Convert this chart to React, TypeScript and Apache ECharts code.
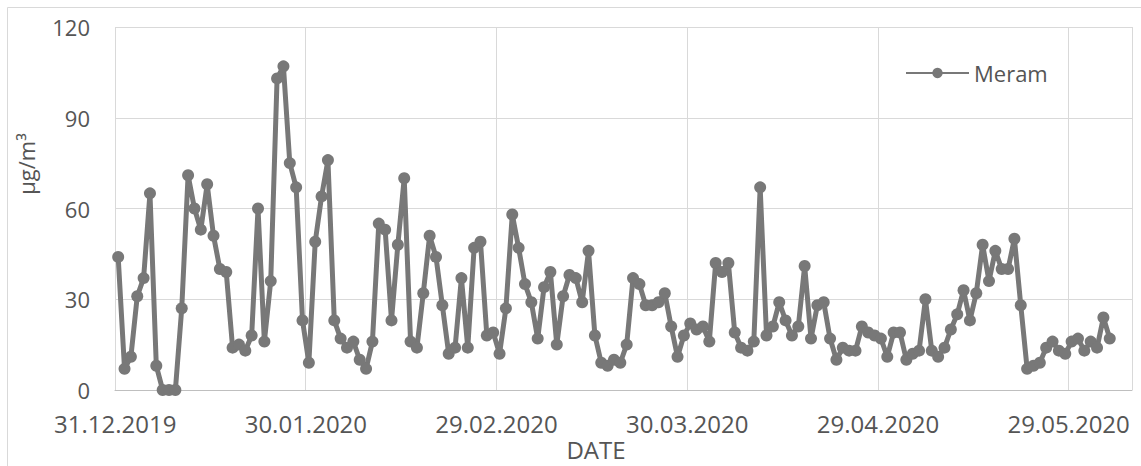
import React, { useEffect, useRef } from "react";
import * as echarts from "echarts";

const startDate = { y: 2019, m: 11, d: 31 };
const slotCount = 160;
const seriesName = "Meram";
const yTicks = [0, 30, 60, 90, 120];
const yTitle = "μg/m³";
const xTitle = "DATE";

const meram = [
  44, 7, 11, 31, 37, 65, 8, 0, 0, 0,
  27, 71, 60, 53, 68, 51, 40, 39, 14, 15,
  13, 18, 60, 16, 36, 103, 107, 75, 67, 23,
  9, 49, 64, 76, 23, 17, 14, 16, 10, 7,
  16, 55, 53, 23, 48, 70, 16, 14, 32, 51,
  44, 28, 12, 14, 37, 14, 47, 49, 18, 19,
  12, 27, 58, 47, 35, 29, 17, 34, 39, 15,
  31, 38, 37, 29, 46, 18, 9, 8, 10, 9,
  15, 37, 35, 28, 28, 29, 32, 21, 11, 18,
  22, 20, 21, 16, 42, 39, 42, 19, 14, 13,
  16, 67, 18, 21, 29, 23, 18, 21, 41, 17,
  28, 29, 17, 10, 14, 13, 13, 21, 19, 18,
  17, 11, 19, 19, 10, 12, 13, 30, 13, 11,
  14, 20, 25, 33, 23, 32, 48, 36, 46, 40,
  40, 50, 28, 7, 8, 9, 14, 16, 13, 12,
  16, 17, 13, 16, 14, 24, 17,
];

function pad(n: number) {
  return n < 10 ? "0" + n : "" + n;
}

const categories: string[] = [];
for (let i = 0; i < slotCount; i++) {
  const dt = new Date(Date.UTC(startDate.y, startDate.m, startDate.d + i));
  categories.push(pad(dt.getUTCDate()) + "." + pad(dt.getUTCMonth() + 1) + "." + dt.getUTCFullYear());
}

const FONT = "'Open Sans', 'Noto Sans', sans-serif";
const TEXT = "#555555";
const GRID = "#d9d9d9";
const LINE = "#787878";

export default function App() {
  const ref = useRef<HTMLDivElement>(null);
  useEffect(() => {
    document.body.style.margin = "0";
    const chart = echarts.init(ref.current!, null, { renderer: "svg" });
    chart.setOption({
      animation: false,
      backgroundColor: "#ffffff",
      textStyle: { fontFamily: FONT },
      grid: { left: 115, right: 9, top: 27, bottom: 76, containLabel: false },
      legend: {
        data: [seriesName],
        left: 900,
        top: 57,
        itemWidth: 63,
        itemHeight: 13,
        textStyle: { fontSize: 22, color: TEXT, fontFamily: FONT },
      },
      xAxis: {
        type: "category",
        data: categories,
        boundaryGap: true,
        axisLine: { show: true, lineStyle: { color: "#bfbfbf", width: 1 } },
        axisTick: { show: false },
        axisLabel: {
          interval: 29,
          fontSize: 24,
          color: TEXT,
          fontFamily: FONT,
          margin: 21,
          padding: [0, 6, 0, 0],
        },
        splitLine: { show: true, interval: 29, lineStyle: { color: GRID, width: 1 } },
      },
      yAxis: {
        type: "value",
        min: yTicks[0],
        max: yTicks[yTicks.length - 1],
        interval: yTicks[1] - yTicks[0],
        axisLine: { show: false },
        axisTick: { show: false },
        axisLabel: { fontSize: 22, color: TEXT, fontFamily: FONT, margin: 25 },
        splitLine: { show: true, lineStyle: { color: GRID, width: 1 } },
      },
      series: [
        {
          name: seriesName,
          type: "line",
          data: meram,
          symbol: "circle",
          symbolSize: 12,
          showAllSymbol: true,
          itemStyle: { color: LINE },
          lineStyle: { color: LINE, width: 5 },
          z: 3,
        },
      ],
      graphic: [
        {
          type: "rect",
          shape: { x: 7.5, y: 7.5, width: 1145, height: 470 },
          style: { fill: "none", stroke: GRID, lineWidth: 1 },
          silent: true,
          z: -1,
        },
        {
          type: "text",
          x: 26,
          y: 164,
          rotation: Math.PI / 2,
          style: {
            text: yTitle,
            fontSize: 22,
            fill: TEXT,
            fontFamily: FONT,
            textAlign: "center",
            textVerticalAlign: "middle",
          },
        },
        {
          type: "text",
          x: 596,
          y: 449,
          style: {
            text: xTitle,
            fontSize: 24,
            fill: TEXT,
            fontFamily: FONT,
            textAlign: "center",
            textVerticalAlign: "middle",
          },
        },
      ],
    });
    return () => chart.dispose();
  }, []);
  return (
    <div
      ref={ref}
      style={{ position: "absolute", left: 0, top: 0, width: 1141, height: 466 }}
    />
  );
}
